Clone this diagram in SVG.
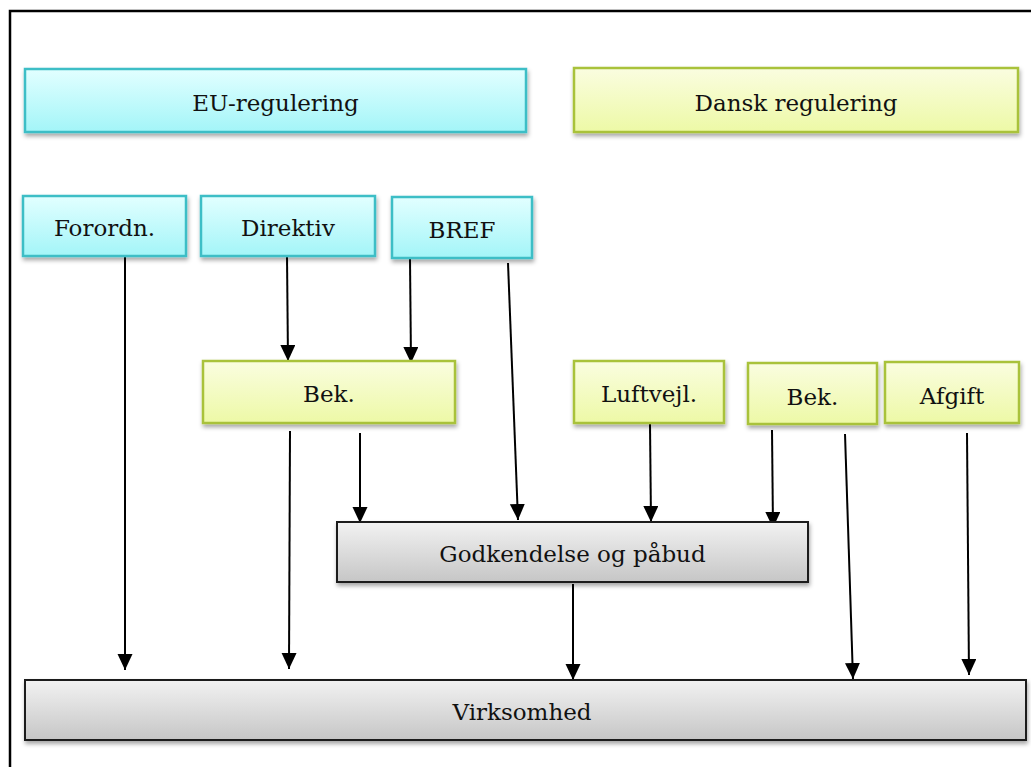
<svg xmlns="http://www.w3.org/2000/svg" width="1031" height="767" viewBox="0 0 1031 767">
  <style>
    .lbl { font-family: "DejaVu Serif", "Liberation Serif", serif; font-size: 23px; fill: #111; text-anchor: middle; }
    .eu { fill: url(#gEU); stroke: #3cbec6; stroke-width: 2.5; filter: url(#shadow); }
    .dk { fill: url(#gDK); stroke: #a9c23b; stroke-width: 2.5; filter: url(#shadow); }
    .gr { fill: url(#gGR); stroke: #1a1a1a; stroke-width: 2; filter: url(#shadow); }
    .conn line { stroke: #000; stroke-width: 2; marker-end: url(#arrow); }
  </style>
  <defs>
    <linearGradient id="gEU" x1="0" y1="0" x2="0" y2="1">
      <stop offset="0" stop-color="#e2ffff"/>
      <stop offset="1" stop-color="#a3f5f8"/>
    </linearGradient>
    <linearGradient id="gDK" x1="0" y1="0" x2="0" y2="1">
      <stop offset="0" stop-color="#fafde0"/>
      <stop offset="1" stop-color="#edf9a6"/>
    </linearGradient>
    <linearGradient id="gGR" x1="0" y1="0" x2="0" y2="1">
      <stop offset="0" stop-color="#f2f2f2"/>
      <stop offset="1" stop-color="#c6c6c6"/>
    </linearGradient>
    <filter id="shadow" x="-5%" y="-20%" width="110%" height="150%">
      <feDropShadow dx="1" dy="3" stdDeviation="2" flood-color="#000" flood-opacity="0.35"/>
    </filter>
    <marker id="arrow" markerUnits="userSpaceOnUse" markerWidth="17" markerHeight="17" refX="16" refY="7.5" orient="auto">
      <path d="M0,0 L16,7.5 L0,15 Z" fill="#000"/>
    </marker>
  </defs>

  <rect width="1031" height="767" fill="#fff"/>
  <!-- outer frame -->
  <path d="M10,767 V11 H1031" fill="none" stroke="#000" stroke-width="2.5"/>

  <!-- connectors -->
  <g id="connectors" class="conn">
    <line x1="125" y1="256" x2="125" y2="670"/>
    <line x1="287" y1="256" x2="288" y2="361"/>
    <line x1="410" y1="259" x2="411" y2="363"/>
    <line x1="508" y1="263" x2="518" y2="520"/>
    <line x1="290" y1="431" x2="289" y2="669"/>
    <line x1="360" y1="433" x2="360" y2="523"/>
    <line x1="650" y1="424" x2="651" y2="522"/>
    <line x1="772" y1="430" x2="773" y2="528"/>
    <line x1="845" y1="434" x2="853" y2="679"/>
    <line x1="967" y1="433" x2="969" y2="675"/>
    <line x1="573" y1="584" x2="573" y2="680"/>
  </g>

  <g id="eu-regulering">
    <rect class="eu" x="25" y="69" width="501" height="63"/>
    <text class="lbl" x="275.5" y="111">EU-regulering</text>
  </g>
  <g id="dansk-regulering">
    <rect class="dk" x="574" y="68" width="444" height="64"/>
    <text class="lbl" x="796" y="111">Dansk regulering</text>
  </g>
  <g id="forordn">
    <rect class="eu" x="23" y="196" width="163" height="60"/>
    <text class="lbl" x="104.5" y="236">Forordn.</text>
  </g>
  <g id="direktiv">
    <rect class="eu" x="201" y="196" width="174" height="60"/>
    <text class="lbl" x="288" y="236">Direktiv</text>
  </g>
  <g id="bref">
    <rect class="eu" x="392" y="197" width="140" height="61"/>
    <text class="lbl" x="462" y="238">BREF</text>
  </g>
  <g id="bek-eu">
    <rect class="dk" x="203" y="361" width="252" height="62"/>
    <text class="lbl" x="329" y="402">Bek.</text>
  </g>
  <g id="luftvejl">
    <rect class="dk" x="574" y="361" width="150" height="62"/>
    <text class="lbl" x="649" y="402">Luftvejl.</text>
  </g>
  <g id="bek-dk">
    <rect class="dk" x="748" y="363" width="129" height="61"/>
    <text class="lbl" x="812.5" y="405">Bek.</text>
  </g>
  <g id="afgift">
    <rect class="dk" x="885" y="362" width="134" height="61"/>
    <text class="lbl" x="952" y="404">Afgift</text>
  </g>
  <g id="godkendelse">
    <rect class="gr" x="337" y="522" width="471" height="60"/>
    <text class="lbl" x="572.5" y="562">Godkendelse og påbud</text>
  </g>
  <g id="virksomhed">
    <rect class="gr" x="25" y="680" width="1001" height="60"/>
    <text class="lbl" x="522" y="720">Virksomhed</text>
  </g>
</svg>
